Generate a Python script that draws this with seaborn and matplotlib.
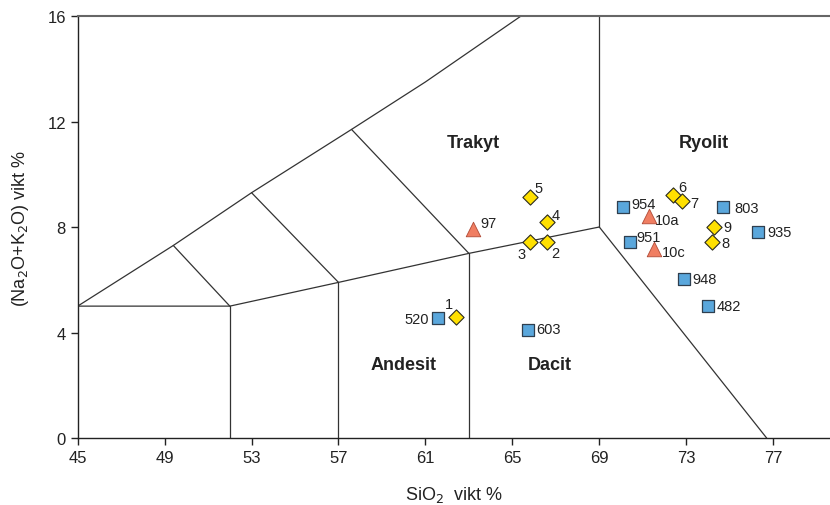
import numpy as np
import pandas as pd
import matplotlib
matplotlib.use("Agg")
import matplotlib.pyplot as plt
import seaborn as sns

# sample points (SiO2, Na2O+K2O)
diamond_ids = ["1", "2", "3", "4", "5", "6", "7", "8", "9"]
diamond_si = [62.4, 66.6, 65.8, 66.6, 65.8, 72.4, 72.8, 74.2, 74.3]
diamond_alk = [4.60, 7.44, 7.44, 8.20, 9.13, 9.21, 8.97, 7.44, 8.01]

square_ids = ["520", "603", "954", "951", "803", "935", "948", "482"]
square_si = [61.6, 65.7, 70.1, 70.4, 74.7, 76.3, 72.9, 74.0]
square_alk = [4.54, 4.11, 8.77, 7.44, 8.77, 7.80, 6.03, 4.99]

tri_ids = ["97", "10a", "10c"]
tri_si = [63.2, 71.3, 71.5]
tri_alk = [7.92, 8.43, 7.17]

# TAS field boundaries
tas_lines = [
    [(45, 5), (49.4, 7.3), (53, 9.3), (57.6, 11.7), (61, 13.5), (65.4, 16)],
    [(45, 5), (52, 5), (57, 5.9), (63, 7), (69, 8)],
    [(52, 0), (52, 5)],
    [(57, 0), (57, 5.9)],
    [(63, 0), (63, 7)],
    [(69, 8), (69, 16)],
    [(69, 8), (76.7, 0)],
    [(49.4, 7.3), (52, 5)],
    [(53, 9.3), (57, 5.9)],
    [(57.6, 11.7), (63, 7)],
]

fields = ["Trakyt", "Ryolit", "Andesit", "Dacit"]
field_si = [63.2, 73.8, 60.0, 66.7]
field_alk = [11.2, 11.2, 2.77, 2.77]

sns.set_style("ticks")
plt.rcParams["font.family"] = ["Liberation Sans Narrow", "Liberation Sans", "DejaVu Sans"]

fig = plt.figure(figsize=(8.3, 5.06), dpi=100)
ax = fig.add_axes([0.0936, 0.1324, 0.906, 0.834])

for seg in tas_lines:
    xs, ys = zip(*seg)
    ax.plot(xs, ys, color="#333333", lw=0.9, zorder=1)

df_d = pd.DataFrame({"SiO2": diamond_si, "alk": diamond_alk, "id": diamond_ids})
df_s = pd.DataFrame({"SiO2": square_si, "alk": square_alk, "id": square_ids})
df_t = pd.DataFrame({"SiO2": tri_si, "alk": tri_alk, "id": tri_ids})

sns.scatterplot(data=df_s, x="SiO2", y="alk", marker="s", s=85, color="#5aa7dc",
                edgecolor="#2f3f4f", linewidth=0.9, ax=ax, zorder=3, legend=False)
sns.scatterplot(data=df_t, x="SiO2", y="alk", marker="^", s=110, color="#f07e62",
                edgecolor="#b04a35", linewidth=0.6, ax=ax, zorder=3, legend=False)
sns.scatterplot(data=df_d, x="SiO2", y="alk", marker="D", s=60, color="#ffe000",
                edgecolor="#2a2a20", linewidth=0.8, ax=ax, zorder=4, legend=False)

# label offsets in pixels (dx, dy)
offs = {"1": (-7, 13), "2": (8, -11), "3": (-8, -12), "4": (9, 7), "5": (9, 9),
        "6": (9, 8), "7": (12, -2), "8": (13, -1), "9": (13, 0),
        "520": (-22, -1), "603": (21, 1), "954": (20, 3), "951": (19, 5),
        "803": (23, -1), "935": (22, 0), "948": (21, 0), "482": (21, 0),
        "97": (15, 6), "10a": (18, -4), "10c": (20, -3)}
for d in (df_d, df_s, df_t):
    for _, r in d.iterrows():
        dx, dy = offs[r["id"]]
        ax.annotate(r["id"], (r["SiO2"], r["alk"]), xytext=(dx * 0.72, dy * 0.72),
                    textcoords="offset points", ha="center", va="center",
                    fontsize=10.5, color="#222222", zorder=5,
                    family=["Liberation Sans", "DejaVu Sans"])

for name, x, y in zip(fields, field_si, field_alk):
    ax.text(x, y, name, ha="center", va="center", fontsize=13, fontweight="bold",
            color="#222222", family=["Liberation Sans", "DejaVu Sans"])

ax.set_xlim(45, 79.6)
ax.set_ylim(0, 16)
ax.set_xticks(np.arange(45, 78, 4))
ax.set_yticks([0, 4, 8, 12, 16])
ax.tick_params(axis="both", direction="out", length=5, width=1, labelsize=12,
               colors="#222222")
ax.spines["right"].set_visible(False)
ax.spines["top"].set_color("#666666")
ax.spines["top"].set_linewidth(1.5)
for s in ("left", "bottom"):
    ax.spines[s].set_color("#222222")
    ax.spines[s].set_linewidth(1.0)

ax.set_xlabel("SiO$_2$  vikt %", fontsize=13, color="#222222", labelpad=14,
              family=["Liberation Sans", "DejaVu Sans"])
ax.set_ylabel("(Na$_2$O+K$_2$O) vikt %", fontsize=13, color="#222222", labelpad=12,
              family=["Liberation Sans", "DejaVu Sans"])

fig.savefig("out.png", dpi=100)
